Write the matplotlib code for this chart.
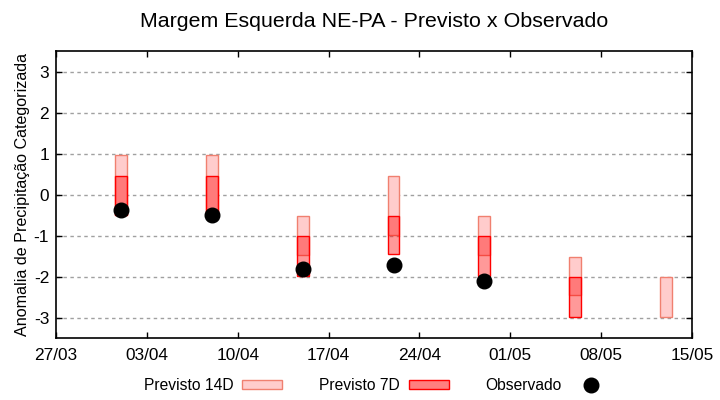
import matplotlib
matplotlib.use("Agg")
import matplotlib.pyplot as plt
import matplotlib.dates as mdates
from matplotlib.patches import Patch
from matplotlib.lines import Line2D
import numpy as np
import datetime as dt

plt.rcParams['font.family'] = ['Liberation Sans', 'DejaVu Sans']

# weekly forecast dates
datas = ["2023-04-01", "2023-04-08", "2023-04-15", "2023-04-22",
         "2023-04-29", "2023-05-06", "2023-05-13"]
# forecast 14 days ahead (range: top / bottom)
p14_top = [0.97, 0.97, -0.52, 0.46, -0.52, -1.52, -2.0]
p14_bot = [-0.5, -0.5, -1.48, -0.98, -1.48, -2.46, -2.98]
# forecast 7 days ahead (nan = none)
p7_top = [0.46, 0.46, -1.0, -0.52, -1.0, -2.0, np.nan]
p7_bot = [-0.5, -0.5, -1.98, -1.46, -1.98, -2.98, np.nan]
# observed
observado = [-0.37, -0.49, -1.81, -1.71, -2.10, np.nan, np.nan]

xticks = ["2023-03-27", "2023-04-03", "2023-04-10", "2023-04-17",
          "2023-04-24", "2023-05-01", "2023-05-08", "2023-05-15"]
yticks = [-3, -2, -1, 0, 1, 2, 3]

x = mdates.date2num([dt.datetime.strptime(d, "%Y-%m-%d") for d in datas])
xt = mdates.date2num([dt.datetime.strptime(d, "%Y-%m-%d") for d in xticks])

fig = plt.figure(figsize=(7.2, 4), dpi=100)
ax = fig.add_axes([0.078, 0.155, 0.883, 0.717])

largura = 0.9
c14_face = '#ffcccc'
c14_edge = '#f08070'
c7_face = (1.0, 0.0, 0.0, 0.4)
c7_edge = '#ff0000'

h14 = np.array(p14_top) - np.array(p14_bot)
ax.bar(x, h14, bottom=p14_bot, width=largura, color=c14_face,
       edgecolor=c14_edge, linewidth=1.0, zorder=2)
h7 = np.array(p7_top) - np.array(p7_bot)
ax.bar(x, h7, bottom=p7_bot, width=largura, color=c7_face,
       edgecolor=c7_edge, linewidth=1.0, zorder=3)
ax.plot(x, observado, 'o', color='black', markersize=10.5, zorder=4)

ax.set_xlim(xt[0], xt[-1])
ax.set_ylim(-3.5, 3.5)
ax.set_xticks(xt)
ax.set_xticklabels([mdates.num2date(v).strftime("%d/%m") for v in xt])
ax.set_yticks(yticks)
ax.set_yticklabels([str(v) for v in yticks])
ax.tick_params(direction='in', length=4, width=1, top=True, right=True,
               labelsize=12.4, pad=5, colors='black')
ax.tick_params(axis='x', pad=7)
ax.grid(axis='y', linestyle=(0, (2.5, 2.5)), color='#a0a0a0', linewidth=1, zorder=0)
for s in ax.spines.values():
    s.set_linewidth(1.2)

ax.set_ylabel("Anomalia de Precipitação Categorizada", fontsize=11.6, labelpad=3)
fig.suptitle("Margem Esquerda NE-PA - Previsto x Observado", fontsize=15.4,
             x=0.519, y=0.97)

handles = [Patch(facecolor=c14_face, edgecolor=c14_edge, linewidth=1.0),
           Patch(facecolor='#ff7f7f', edgecolor=c7_edge, linewidth=1.0),
           Line2D([], [], marker='o', color='black', linestyle='none', markersize=10.5)]
leg = fig.legend(handles, ["Previsto 14D", "Previsto 7D", "Observado"],
                 loc='center', bbox_to_anchor=(0.524, 0.036), ncol=3, frameon=False,
                 markerfirst=False, fontsize=11.25, handlelength=2.56, handleheight=0.45,
                 columnspacing=2.35, handletextpad=0.58)

fig.savefig("out.png", dpi=100)
